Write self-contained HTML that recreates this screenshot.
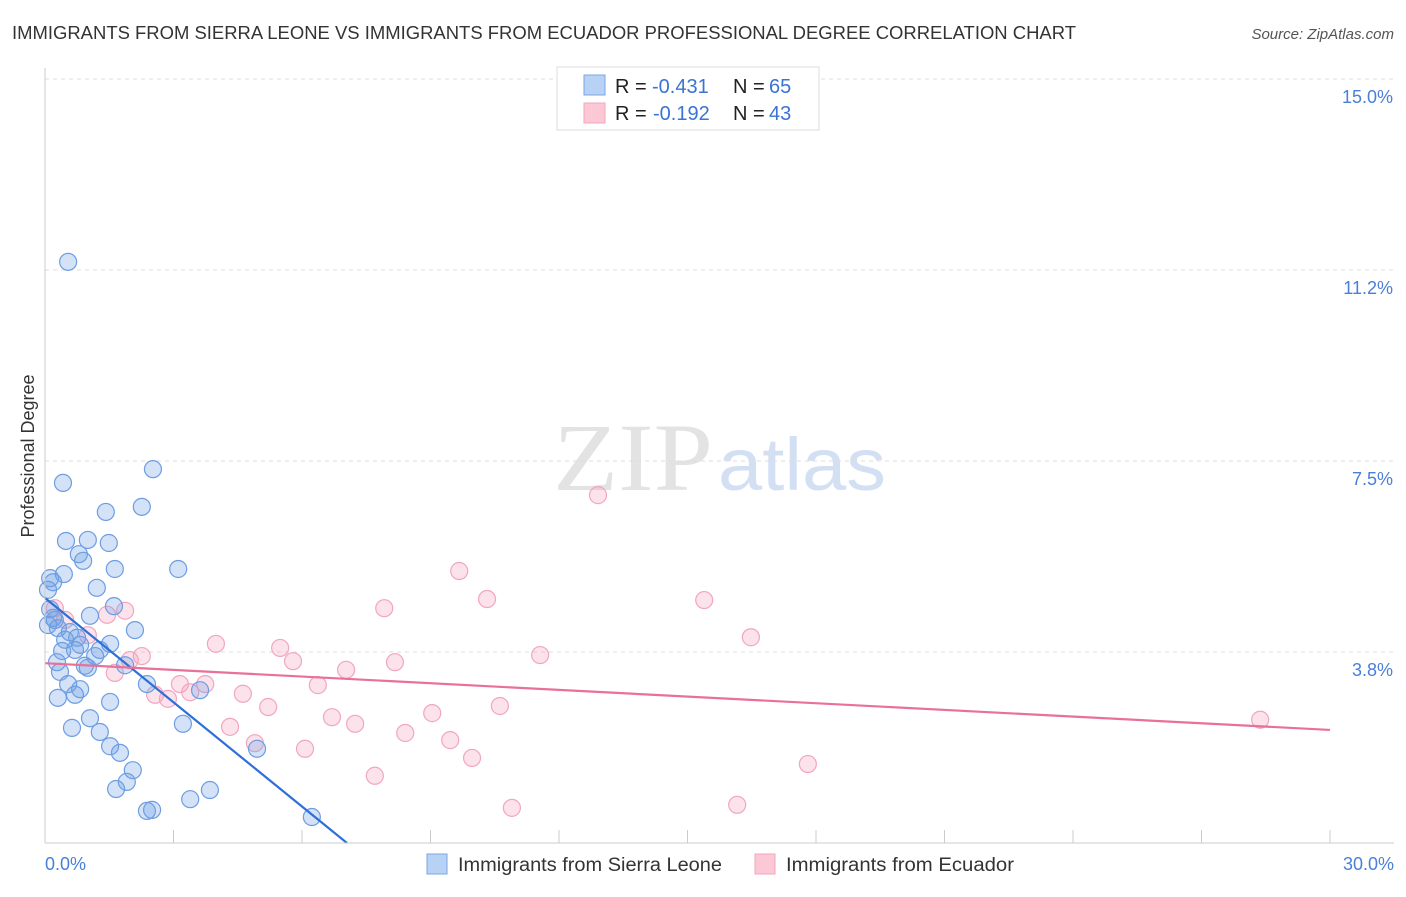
<!DOCTYPE html>
<html><head><meta charset="utf-8"><style>
body{margin:0;background:#fff;font-family:"Liberation Sans",sans-serif}
</style></head><body>
<svg id="c" width="1406" height="892" xmlns="http://www.w3.org/2000/svg" font-family="Liberation Sans, sans-serif">
<text x="12" y="39" font-size="18" fill="#333" textLength="1064" lengthAdjust="spacingAndGlyphs">IMMIGRANTS FROM SIERRA LEONE VS IMMIGRANTS FROM ECUADOR PROFESSIONAL DEGREE CORRELATION CHART</text>
<text x="1394" y="39" font-size="15" fill="#555" font-style="italic" text-anchor="end">Source: ZipAtlas.com</text>
<text x="34" y="456" font-size="18" fill="#333" text-anchor="middle" transform="rotate(-90 34 456)">Professional Degree</text>
<text x="553" y="490" font-size="96" fill="#e3e3e3" font-family="Liberation Serif, serif" textLength="160" lengthAdjust="spacingAndGlyphs">ZIP</text>
<text x="718" y="490" font-size="74" fill="#d3e0f3" textLength="168" lengthAdjust="spacingAndGlyphs">atlas</text>
<g id="grid"></g><g id="pts"></g><g id="lines"></g>
<line x1="45" y1="68" x2="45" y2="843" stroke="#ccc"/>
<line x1="45" y1="843" x2="1394" y2="843" stroke="#ccc"/>
<text x="45" y="870" font-size="18" fill="#4a7fd8">0.0%</text>
<text x="1394" y="870" font-size="18" fill="#4a7fd8" text-anchor="end">30.0%</text>
<g>
<rect x="557" y="67" width="262" height="63" fill="#fff" stroke="#ddd"/>
<rect x="584" y="75" width="21" height="20" fill="#b8d2f5" stroke="#7aa5e3"/>
<rect x="584" y="103" width="21" height="20" fill="#fcc8d6" stroke="#f2a6bc"/>
<text x="615" y="93" font-size="20" fill="#222">R =</text>
<text x="652" y="93" font-size="20" fill="#3a73d6">-0.431</text>
<text x="733" y="93" font-size="20" fill="#222">N =</text>
<text x="769" y="93" font-size="20" fill="#3a73d6">65</text>
<text x="615" y="120" font-size="20" fill="#222">R =</text>
<text x="653" y="120" font-size="20" fill="#3a73d6">-0.192</text>
<text x="733" y="120" font-size="20" fill="#222">N =</text>
<text x="769" y="120" font-size="20" fill="#3a73d6">43</text>
</g>
<g>
<rect x="427" y="854" width="20" height="20" fill="#b8d2f5" stroke="#7aa5e3"/>
<text x="458" y="871" font-size="19" fill="#333" textLength="264" lengthAdjust="spacingAndGlyphs">Immigrants from Sierra Leone</text>
<rect x="755" y="854" width="20" height="20" fill="#fcc8d6" stroke="#f2a6bc"/>
<text x="786" y="871" font-size="19" fill="#333" textLength="228" lengthAdjust="spacingAndGlyphs">Immigrants from Ecuador</text>
</g>
</svg>
<script>
const yTicks=[3.75,7.5,11.25,15];
const yTickLabels=["3.8%","7.5%","11.2%","15.0%"];
const xTicks=[0,3,6,9,12,15,18,21,24,27,30];
const blueX=[0.54,2.52,0.42,2.26,1.42,0.49,1.00,1.49,0.79,0.89,1.63,3.11,0.44,0.12,0.19,0.07,1.21,1.61,0.12,1.05,0.19,0.30,2.10,0.58,0.75,1.52,0.82,0.70,0.40,1.28,1.17,0.93,1.87,0.28,0.35,1.00,2.38,0.54,0.82,0.30,1.52,0.70,3.62,1.05,3.22,0.63,1.28,1.52,1.75,4.95,2.05,1.91,1.66,3.85,3.39,2.38,2.50,6.23,0.23,0.47,0.07];
const blueY=[11.41,7.34,7.07,6.60,6.50,5.93,5.95,5.89,5.67,5.54,5.38,5.38,5.28,5.20,5.12,4.97,5.01,4.65,4.59,4.46,4.42,4.22,4.18,4.14,4.03,3.91,3.89,3.79,3.77,3.79,3.67,3.48,3.49,3.55,3.36,3.44,3.12,3.12,3.02,2.85,2.77,2.91,3.00,2.45,2.34,2.26,2.18,1.90,1.77,1.85,1.43,1.20,1.06,1.04,0.86,0.63,0.65,0.51,4.38,3.99,4.28];
const pinkX=[12.91,9.67,10.32,15.39,7.92,16.48,1.87,1.45,3.99,5.49,5.79,8.17,11.56,7.03,2.26,0.23,0.47,1.63,3.15,3.74,6.37,3.39,2.57,2.87,4.62,5.21,9.04,10.62,6.70,7.24,4.32,8.41,4.90,9.46,6.07,9.97,17.81,7.70,10.90,16.16,28.37,1.00,1.98];
const pinkY=[6.83,5.34,4.79,4.77,4.61,4.04,4.56,4.48,3.91,3.83,3.57,3.55,3.69,3.40,3.67,4.61,4.38,3.34,3.12,3.12,3.10,2.96,2.91,2.83,2.93,2.67,2.55,2.69,2.47,2.34,2.28,2.16,1.96,2.02,1.85,1.67,1.55,1.32,0.69,0.75,2.42,4.08,3.59];
const blueTrend=[[0,4.81],[7.05,0]];
const pinkTrend=[[0,3.53],[30,2.22]];
const NS="http://www.w3.org/2000/svg";
const sx=v=>45+v*(1285/30), sy=v=>843-v*(764/15);
function mk(t,a,p){const e=document.createElementNS(NS,t);for(const k in a)e.setAttribute(k,a[k]);p.appendChild(e);return e;}
const grid=document.getElementById('grid');
yTicks.forEach((t,i)=>{
 const l=mk('line',{x1:45,x2:1394,y1:sy(t),y2:sy(t),stroke:'#ddd','stroke-dasharray':'4,4'},grid);
 
 
 const tx=mk('text',{x:1393,y:sy(t)+24,'font-size':18,fill:'#4a7fd8','text-anchor':'end'},grid);
 tx.textContent=yTickLabels[i];
 
 
});
xTicks.forEach(t=>{
 const l=mk('line',{x1:sx(t),x2:sx(t),y1:830,y2:843,stroke:'#ccc'},grid);
 
 
});
const pts=document.getElementById('pts');
pinkX.forEach((x,i)=>{
 const c=mk('circle',{cx:sx(x),cy:sy(pinkY[i]),r:8.5,fill:'rgba(244,160,188,0.3)',stroke:'#f2a6bc','stroke-width':1.2},pts);
 
 
});
blueX.forEach((x,i)=>{
 const c=mk('circle',{cx:sx(x),cy:sy(blueY[i]),r:8.5,fill:'rgba(110,160,230,0.3)',stroke:'#6d9de2','stroke-width':1.2},pts);
 
 
});
const lines=document.getElementById('lines');
const bl=mk('line',{x1:sx(blueTrend[0][0]),y1:sy(blueTrend[0][1]),x2:sx(blueTrend[1][0]),y2:sy(blueTrend[1][1]),stroke:'#2f6fd8','stroke-width':2.2},lines);


const pl=mk('line',{x1:sx(pinkTrend[0][0]),y1:sy(pinkTrend[0][1]),x2:sx(pinkTrend[1][0]),y2:sy(pinkTrend[1][1]),stroke:'#e8709a','stroke-width':2.2},lines);


</script>
</body></html>
